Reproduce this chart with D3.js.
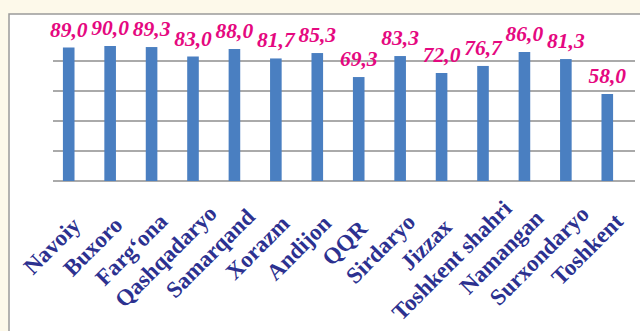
<!DOCTYPE html>
<html lang="uz">
<head>
  <meta charset="utf-8">
  <title>Viloyatlar bo'yicha ko'rsatkich</title>
  <script src="https://d3js.org/d3.v7.min.js" charset="utf-8"></script>
  <style>
    body {
      margin: 0;
      background: #fdf9ea;
    }
    .grid line {
      stroke: #8e8e8e;
      stroke-width: 1.6;
    }
    .bar {
      fill: #4a7fc1;
    }
    .value {
      font-family: "Liberation Serif", "Times New Roman", serif;
      font-weight: bold;
      font-style: italic;
      font-size: 21.5px;
      fill: #e5087f;
    }
    .cat {
      font-family: "Liberation Serif", "Times New Roman", serif;
      font-weight: bold;
      font-size: 23px;
      fill: #2c3190;
    }
  </style>
</head>
<body>
  <script>
    // data
    var regions = ["Navoiy", "Buxoro", "Farg\u2018ona", "Qashqadaryo", "Samarqand", "Xorazm", "Andijon",
                   "QQR", "Sirdaryo", "Jizzax", "Toshkent shahri", "Namangan", "Surxondaryo", "Toshkent"];
    var values = [89.0, 90.0, 89.3, 83.0, 88.0, 81.7, 85.3, 69.3, 83.3, 72.0, 76.7, 86.0, 81.3, 58.0];
    var gridTicks = [0, 20, 40, 60, 80];

    var width = 640;
    var height = 331;

    var svg = d3.select("body")
      .append("svg")
      .attr("width", width)
      .attr("height", height)
      .style("display", "block");

    // white panel with grey frame (only left and top edges show)
    svg.append("rect")
      .attr("x", 9)
      .attr("y", 14)
      .attr("width", width)
      .attr("height", height)
      .attr("fill", "#fff")
      .attr("stroke", "#9a9a9a")
      .attr("stroke-width", 1.5);

    var x = d3.scaleBand()
      .domain(regions)
      .range([48, 628])
      .paddingInner(0.72)
      .paddingOuter(0.36);

    var y = d3.scaleLinear()
      .domain([0, 100])
      .range([181, 31]);

    // horizontal gridlines
    svg.append("g")
      .attr("class", "grid")
      .selectAll("line")
      .data(gridTicks)
      .enter()
      .append("line")
      .attr("x1", 53)
      .attr("x2", 635)
      .attr("y1", function(d) { return y(d); })
      .attr("y2", function(d) { return y(d); });

    svg.selectAll(".bar")
      .data(values)
      .enter()
      .append("rect")
      .attr("class", "bar")
      .attr("x", function(d, i) { return x(regions[i]); })
      .attr("width", x.bandwidth())
      .attr("y", function(d) { return y(d); })
      .attr("height", function(d) { return y(0) - y(d); });

    var fmt = function(v) { return d3.format(".1f")(v).replace(".", ","); };

    svg.selectAll(".value")
      .data(values)
      .enter()
      .append("text")
      .attr("class", "value")
      .attr("text-anchor", "middle")
      .attr("x", function(d, i) { return x(regions[i]) + x.bandwidth() / 2; })
      .attr("y", function(d) { return y(d) - 11; })
      .text(fmt);

    // rotated category labels; longer ones slide further up the slant
    svg.selectAll(".cat")
      .data(regions)
      .enter()
      .append("text")
      .attr("class", "cat")
      .attr("text-anchor", "end")
      .text(function(d) { return d; })
      .attr("transform", function(d) {
        var s = 0.19 * this.getComputedTextLength();
        var cx = x(d) + x.bandwidth() / 2;
        return "translate(" + (cx + s) + "," + (240 - s) + ") rotate(-45)";
      });
  </script>
</body>
</html>
